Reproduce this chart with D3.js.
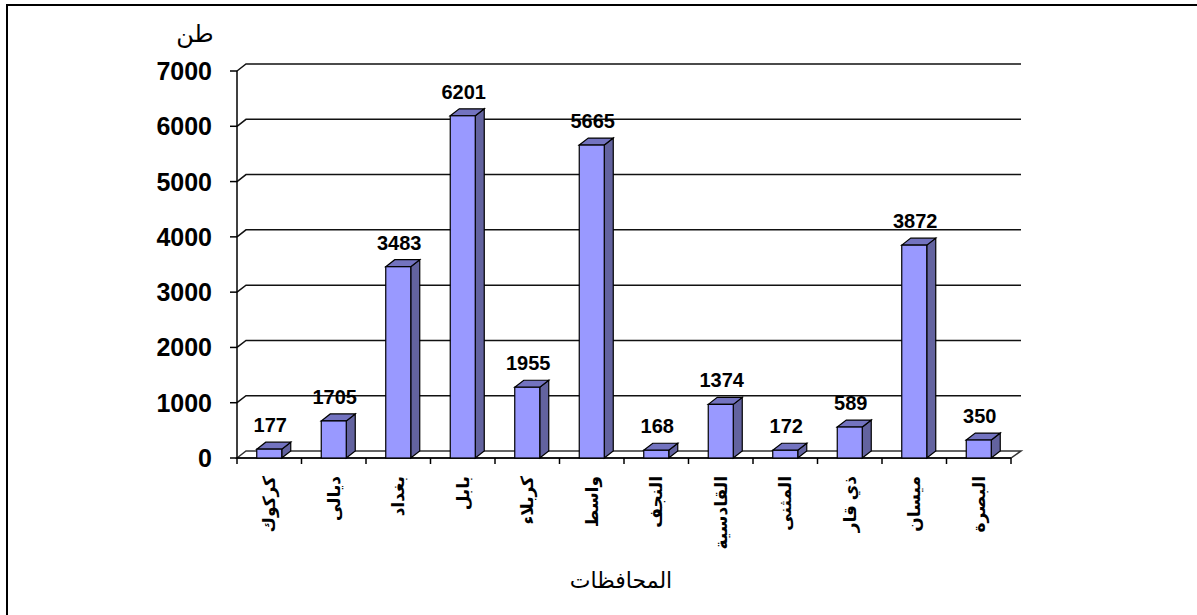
<!DOCTYPE html>
<html>
<head>
<meta charset="utf-8">
<script src="https://cdn.jsdelivr.net/npm/d3@7"></script>
<style>
  body { margin: 0; background: #fff; }
  svg { display: block; font-family: Arial, "Liberation Sans", "DejaVu Sans", sans-serif; }
</style>
</head>
<body>
<svg width="1197" height="615"></svg>
<script>
const categories = ["كركوك", "ديالى", "بغداد", "بابل", "كربلاء", "واسط", "النجف", "القادسية", "المثنى", "ذي قار", "ميسان", "البصرة"]
// numbers printed above the bars
const labelValues = [177, 1705, 3483, 6201, 1955, 5665, 168, 1374, 172, 589, 3872, 350]
// bar heights as drawn in the picture
const barValues = [160, 670, 3460, 6190, 1280, 5660, 140, 970, 140, 560, 3850, 325]
const yTicks = [0, 1000, 2000, 3000, 4000, 5000, 6000, 7000]

const svg = d3.select("svg")

// depth of the fake 3d
const dx = 9, dy = 7

// frame (right and bottom fall off the picture)
svg.append("rect")
  .attr("x", 7).attr("y", 5).attr("width", 1300).attr("height", 700)
  .attr("fill", "none").attr("stroke", "#000").attr("stroke-width", 2)

const x = d3.scaleBand()
  .domain(categories)
  .range([237, 1011])

const y = d3.scaleLinear()
  .domain([0, 7000])
  .range([458, 71])

const bw = 25

// grid lines with diagonal from the front axis
const grid = svg.append("g")
yTicks.forEach(t => {
  if (t === 0) return
  grid.append("path")
    .attr("d", `M237,${y(t)} L${237 + dx},${y(t) - dy} L1021,${y(t) - dy}`)
    .attr("fill", "none").attr("stroke", "#111").attr("stroke-width", 1.5)
})

// floor
grid.append("path")
  .attr("d", `M237,${y(0)} L${237 + dx},${y(0) - dy} L1021,${y(0) - dy} L1011,${y(0)} Z`)
  .attr("fill", "#fff").attr("stroke", "#333").attr("stroke-width", 1.5)

// y axis
svg.append("line")
  .attr("x1", 237).attr("x2", 237).attr("y1", y(7000)).attr("y2", y(0))
  .attr("stroke", "#000").attr("stroke-width", 1.5)

svg.append("g").selectAll("line").data(yTicks).join("line")
  .attr("x1", 230).attr("x2", 237)
  .attr("y1", d => y(d)).attr("y2", d => y(d))
  .attr("stroke", "#000").attr("stroke-width", 1.5)

svg.append("g").selectAll("text").data(yTicks).join("text")
  .attr("x", 212).attr("y", d => y(d))
  .attr("dy", "0.36em")
  .attr("text-anchor", "end")
  .attr("font-size", 25).attr("font-weight", "bold")
  .text(d => d)

// x axis line and ticks at band edges
svg.append("line")
  .attr("x1", 237).attr("x2", 1011).attr("y1", y(0)).attr("y2", y(0))
  .attr("stroke", "#000").attr("stroke-width", 1.5)

const edges = categories.map(c => x(c)).concat([x.range()[1]])
svg.append("g").selectAll("line").data(edges).join("line")
  .attr("x1", d => d).attr("x2", d => d)
  .attr("y1", y(0)).attr("y2", y(0) + 6)
  .attr("stroke", "#000").attr("stroke-width", 1.5)

// bars
const bars = svg.append("g").selectAll("g").data(categories).join("g")

bars.each(function (c, i) {
  const g = d3.select(this)
  const x0 = x(c) + (x.bandwidth() - bw) / 2
  const x1 = x0 + bw
  const top = y(barValues[i])
  const base = y(0)
  // side
  g.append("path")
    .attr("d", `M${x1},${base} L${x1},${top} L${x1 + dx},${top - dy} L${x1 + dx},${base - dy} Z`)
    .attr("fill", "#63639f").attr("stroke", "#000").attr("stroke-width", 1.2)
  // top
  g.append("path")
    .attr("d", `M${x0},${top} L${x0 + dx},${top - dy} L${x1 + dx},${top - dy} L${x1},${top} Z`)
    .attr("fill", "#7373c0").attr("stroke", "#000").attr("stroke-width", 1.2)
  // front
  g.append("rect")
    .attr("x", x0).attr("y", top).attr("width", bw).attr("height", base - top)
    .attr("fill", "#9999ff").attr("stroke", "#000").attr("stroke-width", 1.2)
  // value label
  g.append("text")
    .attr("x", x0 + bw / 2 + 1)
    .attr("y", top - dy - 10)
    .attr("text-anchor", "middle")
    .attr("font-size", 20).attr("font-weight", "bold")
    .text(labelValues[i])
})

// category labels, rotated
svg.append("g").selectAll("text").data(categories).join("text")
  .attr("transform", d => `translate(${x(d) + x.bandwidth() / 2},476) rotate(-90)`)
  .attr("text-anchor", "end")
  .attr("dy", "0.35em")
  .attr("font-size", 17).attr("font-weight", "bold")
  .text(d => d)

// unit and axis title
svg.append("text")
  .attr("x", 195).attr("y", 42)
  .attr("text-anchor", "middle")
  .attr("font-size", 24)
  .text("طن")

svg.append("text")
  .attr("x", 621).attr("y", 588)
  .attr("text-anchor", "middle")
  .attr("font-size", 22)
  .text("المحافظات")
</script>
</body>
</html>
